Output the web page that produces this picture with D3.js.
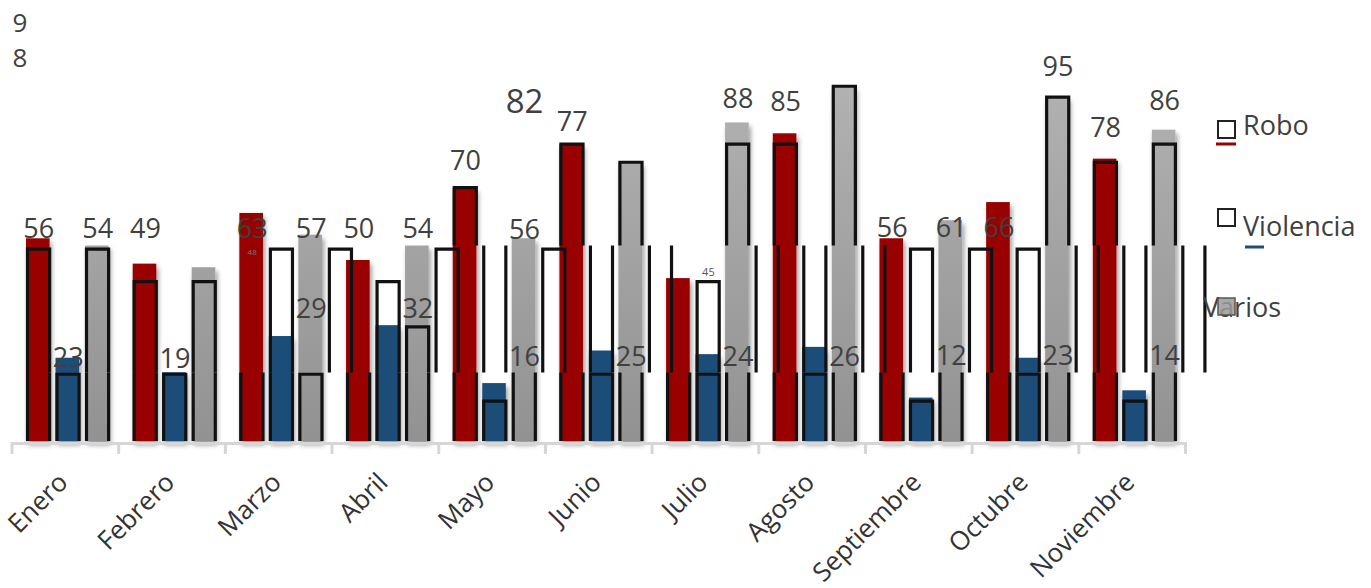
<!DOCTYPE html>
<html><head><meta charset="utf-8">
<script src="https://cdn.jsdelivr.net/npm/d3@7"></script>
<style>
html,body{margin:0;padding:0;background:#fff;}
svg{display:block;font-family:"Open Sans",sans-serif;}
</style></head>
<body>
<svg id="c" width="1371" height="588"></svg>
<script>
// ---- data ----
const months = ["Enero","Febrero","Marzo","Abril","Mayo","Junio","Julio","Agosto","Septiembre","Octubre","Noviembre"];
const seriesNames = ["Robo","Violencia","Varios"];
const robo = [56,49,63,50,70,82,45,85,56,66,78];
const violencia = [23,19,29,32,16,25,24,26,12,23,14];
const varios = [54,48,57,54,56,77,88,98,61,95,86];

// stale outline levels (frame drawn over top and bottom strips)
const outlineRobo = [45,45,45,45,70,82,45,82,45,45,77];
const outlineViolencia = [18.5,18.5,45,45,11,18.5,18.5,18.5,11,18.5,11];
const outlineVarios = [45,45,18.5,45,45,77,82,98,45,95,82];

// ghost outlines in the middle strip
const ghostMonth = [0,0,1,1,2,2,3,3,3,4,4,5,5,6,6,7,7,8,8,9,9,10,10];
const ghostSlot  = [0,2,0,2,1,3,1,2,3,1,3,1,3,1,3,1,3,1,3,1,3,1,3];
const ghostLevel = [53,53,44,44,53,53,44,31.5,53,99,53,99,99,44,99,99,99,53,53,53,99,99,99];

// data labels (text, month, series slot, baseline level, size class)
const labelText  = ["56","54","23","49","19","63","48","57","29","50","54","32","70","56","16","82","77","25","45","24","88","85","26","56","61","12","66","95","23","78","86","14"];
const labelMonth = [0,0,0,1,1,2,2,2,2,3,3,3,4,4,4,4,5,5,6,6,6,7,7,8,8,8,9,9,9,10,10,10];
const labelSlot  = [0,2,1,0,1,0,0,2,2,0,2,2,0,2,2,2,0,2,1,2,2,0,2,0,2,2,0,2,2,0,2,2];
const labelLevel = [56.1,56.1,20.4,56.1,20.2,56.1,51.4,56.1,34,56.1,56.1,34,74.9,55.8,20.7,90.6,85.6,20.7,45.6,20.7,92,91.2,20.7,56.4,56.4,21,56.4,100.8,21,84,91.4,21];
const labelSize  = ["n","n","n","n","n","n","tiny","n","n","n","n","n","n","n","n","big","n","n","small","n","n","n","n","n","n","n","n","n","n","n","n","n"];
// stray vertical label
const strayText = "98";
const strayLevel = 113;

// ---- drawing ----
const svg = d3.select("#c");
const W = 1371, H = 588;
const base = 441;
const x0 = d3.scaleBand().domain(months).range([12, 1185.5]).padding(0);
const bw0 = x0.bandwidth();
const x1 = d3.scaleBand().domain([0,1,2,3]).range([bw0*0.1313, bw0*0.1313 + 112.1/106.68*bw0]).paddingInner(0.2);
const y = d3.scaleLinear().domain([0,100]).range([base, base-362]);
const bw = x1.bandwidth();

const defs = svg.append("defs");
const g1 = defs.append("linearGradient").attr("id","gray").attr("gradientUnits","userSpaceOnUse")
  .attr("x1",0).attr("x2",0).attr("y1",y(100)).attr("y2",base);
g1.append("stop").attr("offset",0).attr("stop-color","#b2b2b2");
g1.append("stop").attr("offset",1).attr("stop-color","#929292");
const f = defs.append("filter").attr("id","sh").attr("x","-40%").attr("y","-10%").attr("width","180%").attr("height","130%");
f.append("feDropShadow").attr("dx",2).attr("dy",4).attr("stdDeviation",2.5).attr("flood-color","#000").attr("flood-opacity",0.4);
const yA = 245.5, yB = 372.5;
defs.append("clipPath").attr("id","clipA").append("rect").attr("x",0).attr("y",0).attr("width",W).attr("height",yA);
defs.append("clipPath").attr("id","clipB").append("rect").attr("x",0).attr("y",yA).attr("width",W).attr("height",yB-yA);
defs.append("clipPath").attr("id","clipC").append("rect").attr("x",0).attr("y",yB).attr("width",W).attr("height",base+2-yB);

const colors = ["#990000","#1f4e79","url(#gray)"];
const values = [robo, violencia, varios];
const outlines = [outlineRobo, outlineViolencia, outlineVarios];

const bars = [];
months.forEach((m,i)=>{ values.forEach((arr,s)=>bars.push({m, i, s, v:arr[i], o:outlines[s][i]})); });

svg.append("g").selectAll("rect").data(bars).join("rect")
  .attr("x", d=>x0(d.m)+x1(d.s)).attr("width", bw)
  .attr("y", d=>y(d.v)).attr("height", d=>base-y(d.v))
  .attr("fill", d=>colors[d.s]).attr("filter","url(#sh)");

// axis
const ax = svg.append("g");
ax.append("line").attr("x1",x0.range()[0]).attr("x2",x0.range()[1]).attr("y1",base+2.5).attr("y2",base+2.5)
  .attr("stroke","#d6d6d6").attr("stroke-width",3);
const bounds = months.map(m=>x0(m)).concat([x0.range()[1]]);
ax.selectAll(".tk").data(bounds).join("line").attr("class","tk")
  .attr("x1",d=>d).attr("x2",d=>d).attr("y1",base+1).attr("y2",base+13)
  .attr("stroke","#d6d6d6").attr("stroke-width",3);
ax.selectAll(".cl").data(months).join("text").attr("class","cl")
  .attr("transform", m=>`translate(${x0(m)+bw0/2+4},${base+43}) rotate(-45)`)
  .attr("text-anchor","end").attr("font-size",26).attr("fill","#333").text(m=>m);

// outlines (open at the bottom)
function openPath(x, top){ return `M${x+1.5},${base}V${top}H${x+bw}V${base}`; }
const outG = svg.append("g").attr("fill","none").attr("stroke","#111").attr("stroke-width",3.2);
["clipA","clipC"].forEach(cp=>{
  outG.append("g").attr("clip-path",`url(#${cp})`).selectAll("path").data(bars).join("path")
    .attr("d", d=>openPath(x0(d.m)+x1(d.s), y(d.o)));
});
const ghosts = ghostMonth.map((m,k)=>({m:months[m], s:ghostSlot[k], v:ghostLevel[k]}));
outG.append("g").attr("clip-path","url(#clipB)").selectAll("path").data(ghosts).join("path")
  .attr("d", d=>openPath(x0(d.m)+x1(d.s), y(d.v)));

// data labels
const sizes = {n:27, big:33, tiny:8, small:11};
const fills = {n:"#404040", big:"#404040", tiny:"#777", small:"#555"};
svg.append("g").selectAll("text").data(labelText.map((t,k)=>({t, m:months[labelMonth[k]], s:labelSlot[k], v:labelLevel[k], z:labelSize[k]})))
  .join("text")
  .attr("x", d=>x0(d.m)+x1(d.s)+bw/2+1).attr("y", d=>y(d.v))
  .attr("text-anchor","middle").attr("font-size", d=>sizes[d.z]).attr("fill", d=>fills[d.z]).text(d=>d.t);
const st = svg.append("text").attr("text-anchor","middle").attr("font-size",26).attr("fill","#404040");
st.selectAll("tspan").data(strayText.split("")).join("tspan")
  .attr("x", x0.range()[0]+8).attr("y",(d,k)=>y(strayLevel)+k*35.5).text(d=>d);

// legend
const lg = svg.append("g");
const lx = 1217;
// Robo
lg.append("rect").attr("x",lx+1).attr("y",121).attr("width",17).attr("height",17).attr("fill","#fff").attr("stroke","#222").attr("stroke-width",2);
lg.append("line").attr("x1",lx-1).attr("x2",lx+19).attr("y1",144).attr("y2",144).attr("stroke","#990000").attr("stroke-width",3);
lg.append("text").attr("x",1243).attr("y",135).attr("font-size",27).attr("fill","#404040").text(seriesNames[0]);
// Violencia
lg.append("rect").attr("x",lx+1).attr("y",209).attr("width",17).attr("height",17).attr("fill","#fff").attr("stroke","#222").attr("stroke-width",2);
lg.append("line").attr("x1",1245).attr("x2",1264).attr("y1",247).attr("y2",247).attr("stroke","#1f4e79").attr("stroke-width",3);
lg.append("text").attr("x",1243).attr("y",236).attr("font-size",27).attr("fill","#404040").text(seriesNames[1]);
// Varios
lg.append("text").attr("x",1203).attr("y",317).attr("font-size",27).attr("fill","#404040").text(seriesNames[2]);
lg.append("rect").attr("x",lx+1).attr("y",298).attr("width",17).attr("height",17).attr("fill","#9a9a9a").attr("fill-opacity",0.85).attr("stroke","#555").attr("stroke-width",1.5);
</script>
</body></html>
